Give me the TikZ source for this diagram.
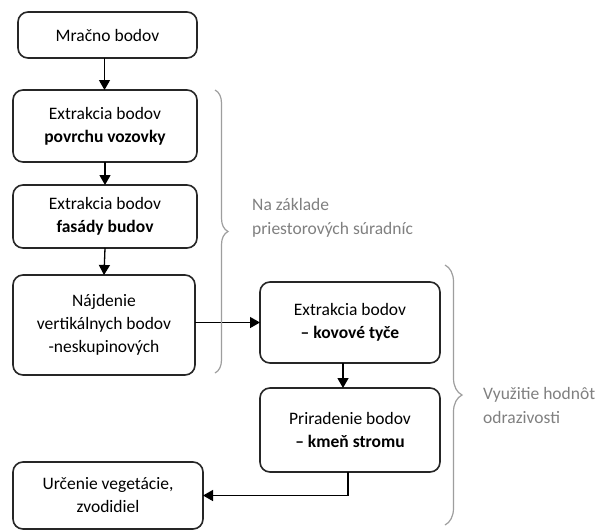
\documentclass[tikz,border=0pt]{standalone}
\usepackage{fontspec}
\setmainfont{Carlito}
\usetikzlibrary{arrows.meta,decorations.pathreplacing}
\begin{document}
\begin{tikzpicture}[x=1pt,y=-1pt,
  stepbox/.style={draw=black!85,line width=1.6pt,rounded corners=10pt,
    align=center,inner sep=0pt,outer sep=0pt,
    font=\fontsize{17.5}{23}\selectfont},
  arr/.style={line width=1.3pt,-{Triangle[length=10pt,width=11pt]}},
  grp/.style={draw=black!38,line width=1.2pt,
    decorate,decoration={brace,amplitude=#1}},
  note/.style={text=black!50,align=left,anchor=west,inner sep=0pt,
    font=\fontsize{17.5}{24}\selectfont}]
\useasboundingbox (0,0) rectangle (606,531);
\fill[white] (0,0) rectangle (606,531);

\node[stepbox,minimum width=179pt,minimum height=46pt] (m1) at (107.5,35) {Mračno bodov};
\node[stepbox,minimum width=184pt,minimum height=72pt] (m2) at (105,126)
  {Extrakcia bodov\\\textbf{povrchu vozovky}};
\node[stepbox,minimum width=184pt,minimum height=63pt] (m3) at (105,216.5)
  {Extrakcia bodov\\\textbf{fasády budov}};
\node[stepbox,minimum width=182pt,minimum height=100pt] (m4) at (104,325)
  {Nájdenie\\vertikálnych bodov\\-neskupinových};
\node[stepbox,minimum width=180pt,minimum height=81pt] (m5) at (350,322.5)
  {Extrakcia bodov\\\textbf{– kovové tyče}};
\node[stepbox,minimum width=180pt,minimum height=84pt] (m6) at (350,430)
  {Priradenie bodov\\\textbf{– kmeň stromu}};
\node[stepbox,minimum width=190pt,minimum height=67pt] (m7) at (108,495.5)
  {Určenie vegetácie,\\zvodidiel};

\draw[arr] ([xshift=-3pt]m1.south) -- ([xshift=-3pt]m1.south |- m2.north);
\draw[arr] (m2.south) -- (m3.north);
\draw[arr] (m3.south) -- (m4.north);
\draw[arr] (m4.east |- m5.west) -- (m5.west);
\draw[arr] ([xshift=-7pt]m5.south) -- ([xshift=-7pt]m6.north);
\draw[arr] ([xshift=-2pt]m6.south) |- (m7.east);

\coordinate (b1t) at (215,90);
\coordinate (b1b) at (215,373);
\coordinate (b2t) at (445,265);
\coordinate (b2b) at (445,525);
\draw[grp=13pt] (b1t) -- (b1b);
\draw[grp=17pt] (b2t) -- (b2b);

\node[note] (n1) at (252,218) {Na základe\\priestorových súradníc};
\node[note] (n2) at (483,405) {Využitie hodnôt\\odrazivosti};
\end{tikzpicture}
\end{document}
